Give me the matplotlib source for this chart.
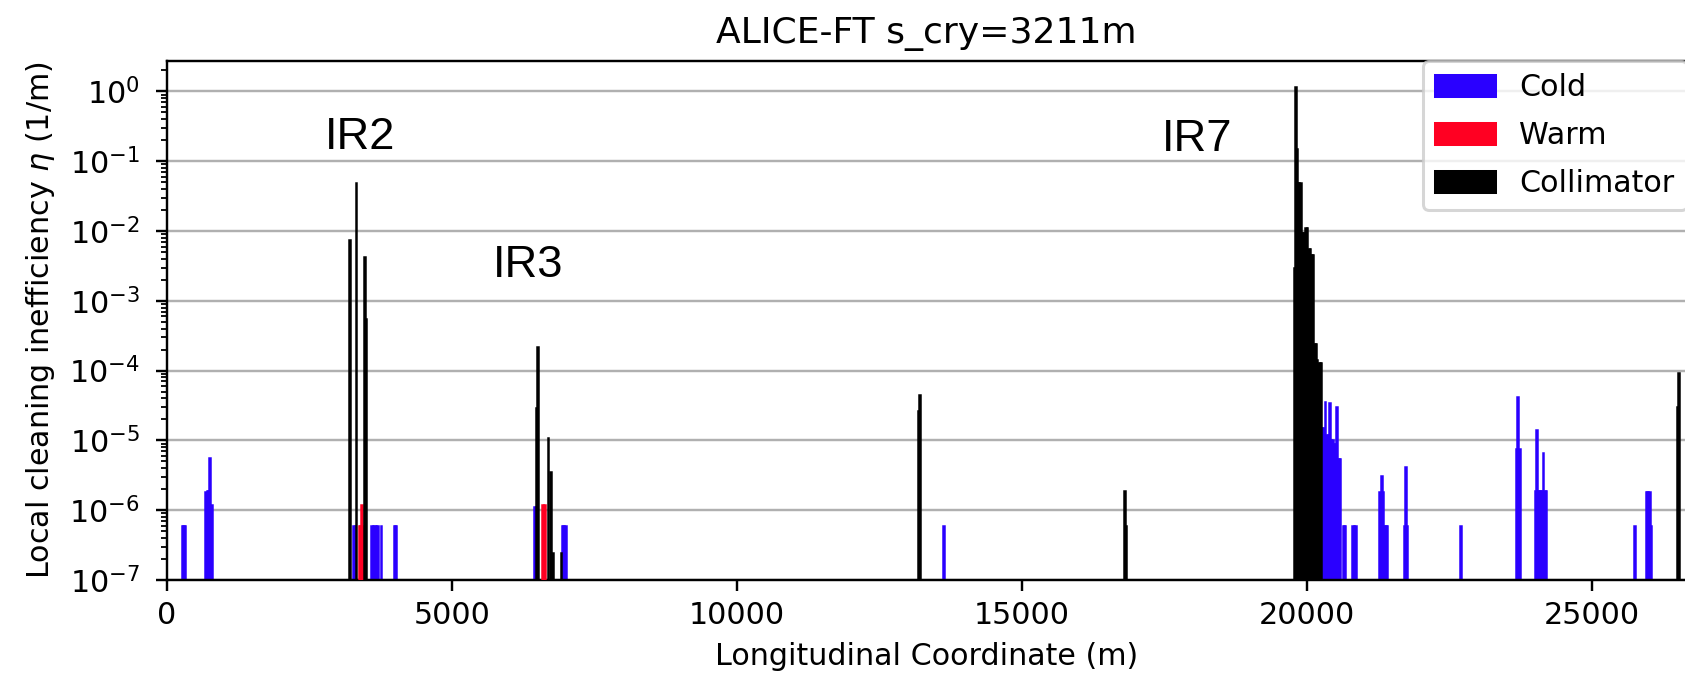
import matplotlib
matplotlib.use("Agg")
import matplotlib.pyplot as plt
from matplotlib.patches import Patch

# Loss map: position along the ring (m) and local cleaning inefficiency (1/m)
title = "ALICE-FT s_cry=3211m"
xlabel = "Longitudinal Coordinate (m)"
ylabel = "Local cleaning inefficiency $\\eta$ (1/m)"
legend_labels = ["Cold", "Warm", "Collimator"]

cold_s = [280, 300, 320, 690, 715, 740, 765, 790,
          3280, 3310, 3605, 3630, 3655, 3680, 3710, 3770, 4000, 4025,
          6455, 6485, 6950, 6975, 7000, 13636,
          20270, 20295, 20325, 20350, 20375, 20400, 20425, 20450, 20475,
          20500, 20530, 20555, 20580, 20645, 20665, 20810, 20835, 20860,
          21285, 21310, 21335, 21360, 21385, 21405, 21715, 21740, 21765,
          22700, 23680, 23705, 23730,
          24005, 24030, 24055, 24080, 24105, 24125, 24150, 24175, 24200,
          25755, 25960, 25985, 26010, 26035]
cold_eta = [6e-7, 6e-7, 6e-7, 1.8e-6, 1.9e-6, 1.9e-6, 5.6e-6, 1.2e-6,
            6e-7, 6e-7, 6e-7, 6e-7, 6e-7, 6e-7, 6e-7, 6e-7, 6e-7, 6e-7,
            1.1e-6, 1.1e-6, 6e-7, 6e-7, 6e-7, 6e-7,
            1.5e-5, 1.5e-5, 3.6e-5, 1.2e-5, 1.2e-5, 3.4e-5, 1.0e-5, 1.0e-5, 9e-6,
            9e-6, 3.0e-5, 5.5e-6, 5.5e-6, 6e-7, 6e-7, 6e-7, 6e-7, 6e-7,
            1.8e-6, 3.1e-6, 1.8e-6, 6e-7, 6e-7, 6e-7, 6e-7, 4.1e-6, 6e-7,
            6e-7, 7.5e-6, 4.2e-5, 7.5e-6,
            1.9e-6, 1.4e-5, 1.9e-6, 1.9e-6, 1.9e-6, 1.9e-6, 6.5e-6, 1.9e-6, 1.9e-6,
            6e-7, 1.8e-6, 1.8e-6, 1.8e-6, 6e-7]

warm_s = [3380, 3405, 3430, 3455, 6605, 6630, 19950, 20030]
warm_eta = [6e-7, 6e-7, 1.2e-6, 6e-7, 1.2e-6, 1.2e-6, 3.7e-6, 1.7e-6]

coll_s = [3214, 3331, 3480, 3505,
          6500, 6515, 6695, 6745, 6780, 6925,
          13195, 13210, 16808, 16830,
          19780, 19805, 19820, 19840, 19865, 19890, 19910, 19935, 19960,
          19985, 20010, 20035, 20060, 20085, 20110, 20135, 20160,
          20185, 20210, 20235, 20255,
          26505, 26525]
coll_eta = [7.4e-3, 4.9e-2, 4.3e-3, 5.5e-4,
            2.9e-5, 2.2e-4, 1.1e-5, 3.5e-6, 2.4e-7, 2.4e-7,
            2.6e-5, 4.4e-5, 1.9e-6, 6e-7,
            3e-3, 1.15, 0.15, 0.048, 0.048, 0.048, 9.5e-3, 9.5e-3, 9.5e-3,
            1.1e-2, 1.1e-2, 5.6e-3, 5.6e-3, 4.5e-3, 4.5e-3, 2.4e-4, 2.4e-4,
            1.4e-4, 1.3e-4, 1.3e-4, 1.3e-4,
            3e-5, 9.3e-5]

# Insertion region annotations (s in m, eta at text baseline)
ir_names = ["IR2", "IR3", "IR7"]
ir_s = [2781, 5730, 17458]
ir_eta = [0.151, 2.16e-3, 0.141]

ring_length = 26659
cold_color = "#2a00ff"
warm_color = "#ff0022"
coll_color = "#000000"
bin_width = 30

fig = plt.figure(figsize=(1685 / 217, 674 / 217), dpi=217)
ax = fig.add_axes([0.0989, 0.1395, 1.001 - 0.0989, 0.909 - 0.1395])
ax.set_yscale("log")

ax.bar(cold_s, cold_eta, width=bin_width, bottom=1e-9, color=cold_color,
       edgecolor=cold_color, linewidth=0.5, zorder=2)
ax.bar(warm_s, warm_eta, width=bin_width, bottom=1e-9, color=warm_color,
       edgecolor=warm_color, linewidth=0.5, zorder=3)
ax.bar(coll_s, coll_eta, width=bin_width, bottom=1e-9, color=coll_color,
       edgecolor=coll_color, linewidth=0.5, zorder=4)

ax.set_xlim(0, ring_length)
ax.set_ylim(1e-7, 2.7)
ax.yaxis.grid(True, which="major", color="#b0b0b0", linewidth=0.8, zorder=0)
ax.set_axisbelow(True)
ax.tick_params(axis="y", which="major", pad=5.5)

for name, s, eta in zip(ir_names, ir_s, ir_eta):
    ax.text(s, eta, name, fontsize=15, family="Liberation Sans",
            ha="left", va="baseline", zorder=5)

ax.set_title(title)
ax.set_xlabel(xlabel)
ax.set_ylabel(ylabel)

handles = [Patch(color=cold_color), Patch(color=warm_color), Patch(color=coll_color)]
ax.legend(handles, legend_labels, loc="upper right", borderaxespad=0,
          labelspacing=0.62)

fig.savefig("out.png", dpi=217)
